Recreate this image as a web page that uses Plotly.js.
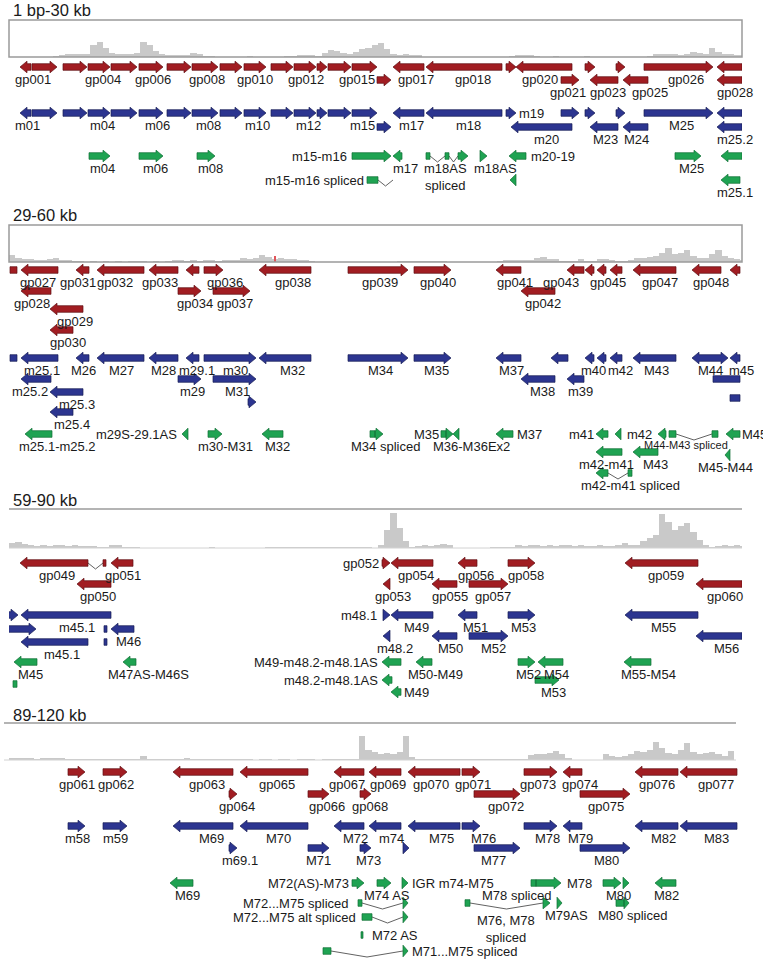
<!DOCTYPE html>
<html><head><meta charset="utf-8">
<script src="https://cdn.plot.ly/plotly-3.0.1.min.js"></script>
<style>html,body{margin:0;padding:0;background:#fff}#chart{width:763px;height:964px}</style>
</head><body><div id="chart"></div>
<script>
// ---------------- DATA ----------------
const panelTitles = ['1 bp-30 kb', '29-60 kb', '59-90 kb', '89-120 kb'];
const panelStartKb = [0, 29, 59, 89];
const panelSpanKb = 29.32;
const covBinKb = 0.25;

// read coverage (relative depth), 0.25 kb bins from each panel start
const cov1 = [0,0,0,0,0,0,0.5,1.5,2.5,3,3,3,3.5,12,15,9,4,3,3,3,4,15,12,6,3,2.5,2.5,2,2,4.5,3,1.5,1,0.5,0.3,0.3,0.3,0.3,1,0.5,0.3,0.3,0.3,0.3,1,1.5,2,2.5,2,1.5,4,7,6,4,3.5,5,8,9,12,14,8,3,2.5,3,2.5,2,0.5,0.2,0.2,0.2,0.2,0.2,0.2,0.2,0.2,0.2,0.2,0.2,0.2,0.2,1.5,2.5,2.5,2,1.5,0.5,0.3,1,0.5,0.3,0.3,0.3,1,0.3,0.3,0.3,0.3,0.3,0.3,0.3,0.3,0.3,1,3,3.5,3,3.5,2,3,5,4,3,9,5,3.5,3,2.5,2];
const cov2 = [7,4,3,3,2.5,2,3,4,2.5,2,1,0.8,0.5,0.8,0.5,0.8,0.5,0.8,0.5,0.8,1,0.8,0.5,0.8,0.5,0.8,2.5,2,1.5,2,1.5,2,2,1.5,2,2.5,2,4,3,4,7,5,3,4,3,3,2.5,2.5,1,0.3,0.3,0.3,0.3,0.3,0.3,0.3,0.3,0.3,0.3,0.3,0.3,0.3,1.5,1,1.5,1,1.5,1,1.5,1,0.3,0.3,0.3,0.3,0.3,0.3,0.3,0.3,1.5,2,2.5,2,2,2.5,4,5,3.5,3,1,1,1,3,1,1.5,3,3,2,1,1.5,2,4,4.5,5,6,9,14,8,9,12,6,4,4,8,12,6,4,3,2];
const cov2RedKb = [39.64];
const cov2RedVal = [6];
const cov3 = [5,6,4,3,2.5,3,2.5,3,3,2.5,3,2.5,2,2,1,1.5,3.5,3,1.5,1.5,1,0.3,0.3,0.3,0.3,0.3,0.3,0.3,0.3,0.3,0.3,0.3,1,0.3,0.3,0.3,0.3,0.3,0.3,0.3,0.3,1.2,0.6,1.2,0.6,1.2,0.6,1.2,0.6,1.2,0.6,1.2,0.6,0.8,0.8,0.8,0.8,0.8,0.5,3,18,35,20,7,1.5,2.5,3,2.5,3.5,4,3,0.5,0.4,0.4,0.4,0.4,0.4,1.3,1.3,1.3,1.3,3,2.5,3,3.5,2.5,3,2.5,3,3,2.5,3,2,2.5,3,2.5,2,3,5,3,3,7,10,13,34,26,18,22,25,16,8,3,1.5,2,3,2.5,3,2];
const cov4 = [2,2.5,2,2,1.5,2,2,2.5,2,1,1,0.8,1,1,1.2,1,0.8,1,1,1,1,4,1.5,1,1.5,1.5,1,1.5,2,1.5,1,1.5,1.5,1,1.5,1.5,1,1.5,1,0.5,1,1,0.5,1,1,0.5,1,1,1,0.5,1,1,1,1.5,1,1.5,24,10,8,6,7,6,8,24,3,1,0.7,1,1,0.7,1,1,0.7,1,1,0.7,1,1,0.7,1,1,0.7,1,5,6,6,7,9,6,2,0.5,0.5,0.5,0.5,0.5,6,4,3,4,6,9,8,10,18,12,7,6,10,17,8,6,7,8,6,4,9,0,0];

// features: [startKb, endKb, kind (R rightward, L leftward, B both, X block), lane]
const genesP1 = [
 [0.44,0.88,'L','R1'],[0.92,1.92,'R','R1'],[2.16,3.12,'R','R1'],[3.16,4.04,'R','R1'],[4.08,5.12,'R','R1'],[5.20,6.16,'R','R1'],[6.32,7.28,'R','R1'],[7.32,8.36,'R','R1'],[8.44,9.32,'R','R1'],[9.40,10.28,'R','R1'],[10.48,11.36,'R','R1'],[11.40,12.28,'R','R1'],[12.32,12.72,'R','R1'],[12.76,13.68,'R','R1'],[13.72,14.72,'R','R1'],[15.36,16.60,'L','R1'],[16.68,19.72,'L','R1'],[19.88,20.28,'R','R1'],[20.28,22.52,'L','R1'],[23.04,23.44,'R','R1'],[24.28,24.64,'R','R1'],[25.40,28.16,'R','R1'],[28.32,29.32,'L','R1'],
 [14.72,15.28,'R','R2'],[22.08,22.80,'R','R2'],[23.24,24.36,'L','R2'],[24.56,25.56,'L','R2'],[28.32,29.32,'L','R2'],
 [0.44,0.88,'L','B1'],[0.92,1.92,'R','B1'],[2.16,3.12,'R','B1'],[3.16,4.04,'R','B1'],[4.08,5.12,'R','B1'],[5.20,6.16,'R','B1'],[6.32,7.28,'R','B1'],[7.32,8.36,'R','B1'],[8.44,9.32,'R','B1'],[9.40,10.28,'R','B1'],[10.48,11.36,'R','B1'],[11.40,12.28,'R','B1'],[12.32,12.72,'R','B1'],[12.76,13.68,'R','B1'],[13.72,14.72,'R','B1'],[15.36,16.60,'L','B1'],[16.68,19.72,'L','B1'],[19.88,20.28,'R','B1'],[22.08,22.80,'R','B1'],[23.04,23.44,'R','B1'],[24.28,24.64,'R','B1'],[25.40,28.16,'R','B1'],[28.32,29.32,'L','B1'],
 [14.72,15.28,'R','B2'],[20.08,22.52,'L','B2'],[23.24,24.36,'L','B2'],[24.56,25.56,'L','B2'],[28.32,29.32,'L','B2'],
 [3.20,4.04,'R','G1'],[5.20,6.16,'R','G1'],[7.52,8.24,'R','G1'],[13.72,15.28,'R','G1'],[15.36,15.72,'L','G1'],[16.68,16.84,'X','G1'],[17.44,17.60,'X','G1'],[17.96,18.36,'R','G1'],[18.84,19.12,'R','G1'],[20.00,20.68,'L','G1'],[26.64,27.68,'R','G1'],[28.48,29.32,'L','G1'],
 [14.32,14.76,'X','G2'],[20.04,20.28,'L','G2'],[28.48,29.24,'L','G2']
];
const intronsP1 = [[14.76,15.36,'G2'],[16.84,17.44,'G1'],[17.60,17.96,'G1']];
const labelsP1 = [
 ['gp001',0.96,'R1','b'],['gp004',3.76,'R1','b'],['gp006',5.76,'R1','b'],['gp008',7.92,'R1','b'],['gp010',9.84,'R1','b'],['gp012',11.88,'R1','b'],['gp015',13.92,'R1','b'],['gp017',16.28,'R1','b'],['gp018',18.56,'R1','b'],['gp020',21.24,'R1','b'],['gp026',27.08,'R1','b'],
 ['gp021',22.36,'R2','b'],['gp023',23.96,'R2','b'],['gp025',25.64,'R2','b'],['gp028',29.04,'R2','b'],
 ['m01',0.72,'B1','b'],['m04',3.72,'B1','b'],['m06',5.92,'B1','b'],['m08',7.96,'B1','b'],['m10',9.92,'B1','b'],['m12',11.96,'B1','b'],['m15',14.12,'B1','b'],['m17',16.08,'B1','b'],['m18',18.36,'B1','b'],['m19',20.36,'B1','r'],['M25',26.88,'B1','b'],
 ['m20',21.48,'B2','b'],['M23',23.84,'B2','b'],['M24',25.08,'B2','b'],['m25.2',29.04,'B2','b'],
 ['m04',3.72,'G1','b'],['m06',5.84,'G1','b'],['m08',8.04,'G1','b'],['m15-m16',13.56,'G1','l'],['m17',15.84,'G1','b'],['m18AS<br>spliced',17.44,'G1','b'],['m18AS',19.44,'G1','b'],['m20-19',20.84,'G1','r'],['M25',27.28,'G1','b'],
 ['m15-m16 spliced',14.24,'G2','l'],['m25.1',29.04,'G2','b']
];

const genesP2 = [
 [29.04,29.32,'X','R1'],[29.48,30.96,'L','R1'],[31.68,32.20,'L','R1'],[32.52,34.40,'L','R1'],[34.60,35.76,'L','R1'],[36.08,36.60,'L','R1'],[36.80,37.56,'R','R1'],[39.00,41.08,'L','R1'],[42.56,44.96,'R','R1'],[45.20,46.68,'R','R1'],[48.48,49.48,'L','R1'],[51.32,52.00,'L','R1'],[52.04,52.40,'L','R1'],[52.52,52.88,'L','R1'],[53.04,53.52,'L','R1'],[53.96,55.68,'L','R1'],[56.32,57.48,'L','R1'],[57.84,58.24,'L','R1'],
 [29.48,30.68,'L','R2'],[35.76,36.68,'R','R2'],[37.16,38.64,'R','R2'],[49.48,50.84,'L','R2'],
 [30.64,31.96,'L','R3'],[30.64,31.56,'L','R4'],
 [29.04,29.32,'X','B1'],[29.48,30.96,'L','B1'],[31.68,32.20,'L','B1'],[32.52,34.40,'L','B1'],[34.60,35.76,'L','B1'],[36.08,36.60,'L','B1'],[36.80,38.88,'R','B1'],[39.00,41.08,'L','B1'],[42.56,44.96,'R','B1'],[45.20,46.68,'R','B1'],[48.48,49.48,'L','B1'],[50.68,51.36,'L','B1'],[52.04,52.40,'L','B1'],[52.52,52.88,'L','B1'],[53.04,53.52,'L','B1'],[53.96,55.68,'L','B1'],[56.32,57.76,'B','B1'],[57.84,58.24,'L','B1'],
 [29.48,30.68,'L','B2'],[35.76,36.68,'R','B2'],[37.16,38.88,'R','B2'],[49.48,50.84,'L','B2'],[51.32,52.00,'L','B2'],[57.16,58.24,'X','B2'],
 [30.64,31.96,'L','B3'],[38.56,38.88,'R','B3b'],[57.84,58.24,'X','B3c'],[30.64,31.56,'L','B4'],
 [29.64,30.72,'L','G1'],[35.92,36.16,'L','G1'],[36.96,37.52,'R','G1'],[39.12,39.96,'L','G1'],[43.44,43.64,'X','G1'],[43.64,43.96,'R','G1'],[46.28,46.48,'X','G1'],[46.48,46.76,'R','G1'],[46.76,47.00,'L','G1'],[48.48,49.16,'L','G1'],[52.48,52.96,'L','G1'],[53.24,53.48,'L','G1'],[54.96,55.28,'L','G1'],[55.40,55.68,'X','G1'],[57.12,57.36,'X','G1'],[57.68,58.24,'L','G1'],
 [52.48,53.52,'L','G2'],[53.96,54.96,'L','G2'],[57.64,57.84,'L','G2b'],
 [52.48,52.96,'L','G3'],[53.76,53.92,'X','G3']
];
const intronsP2 = [[55.68,57.12,'G1'],[52.96,53.76,'G3']];
const labelsP2 = [
 ['gp027',30.16,'R1','b'],['gp031',31.76,'R1','b'],['gp032',33.24,'R1','b'],['gp033',35.04,'R1','b'],['gp036',37.64,'R1','b'],['gp038',40.36,'R1','b'],['gp039',43.84,'R1','b'],['gp040',46.16,'R1','b'],['gp041',49.24,'R1','b'],['gp043',51.08,'R1','b'],['gp045',52.96,'R1','b'],['gp047',55.04,'R1','b'],['gp048',57.08,'R1','b'],
 ['gp028',29.92,'R2','b'],['gp034',36.44,'R2','b'],['gp037',38.04,'R2','b'],['gp042',50.36,'R2','b'],
 ['gp029',31.64,'R3','b'],['gp030',31.36,'R4','b'],
 ['m25.1',30.32,'B1','b'],['M26',31.96,'B1','b'],['M27',33.48,'B1','b'],['M28',35.16,'B1','b'],['m29.1',36.52,'B1','b'],['m30',38.04,'B1','b'],['M32',40.32,'B1','b'],['M34',43.84,'B1','b'],['M35',46.08,'B1','b'],['M37',49.08,'B1','b'],['m40',52.36,'B1','b'],['m42',53.44,'B1','b'],['M43',54.88,'B1','b'],['M44',57.04,'B1','b'],['m45',58.28,'B1','b'],
 ['m25.2',29.84,'B2','b'],['m29',36.32,'B2','b'],['M31',38.12,'B2','b'],['M38',50.32,'B2','b'],['m39',51.84,'B2','b'],
 ['m25.3',31.72,'B3','b'],['m25.4',31.52,'B4','b'],
 ['m25.1-m25.2',30.92,'G1','b'],['m29S-29.1AS',35.76,'G1','l'],['m30-M31',37.64,'G1','b'],['M32',39.72,'G1','b'],['M34 spliced',44.04,'G1','b'],['M35',46.24,'G1','l'],['M36-M36Ex2',47.48,'G1','b'],['M37',49.28,'G1','r'],['m41',52.44,'G1','l'],['m42',53.68,'G1','r'],['M44-M43 spliced',56.08,'G1s','c','small'],['M45',58.28,'G1','r'],
 ['m42-m41',52.88,'G2','b'],['M43',54.84,'G2','b'],['M45-M44',57.64,'G2b','b'],['m42-m41 spliced',53.84,'G3','b']
];

const genesP3 = [
 [59.44,62.16,'L','R1'],[62.76,62.88,'X','R1'],[63.08,63.96,'L','R1'],[73.92,74.24,'R','R1'],[74.28,75.96,'L','R1'],[76.96,77.72,'L','R1'],[78.96,80.04,'R','R1'],[83.64,86.56,'L','R1'],
 [61.72,63.08,'L','R2'],[73.96,74.24,'L','R2'],[75.92,76.92,'L','R2'],[77.40,78.96,'R','R2'],[86.48,88.32,'L','R2'],
 [58.96,59.36,'R','B1'],[59.48,63.08,'L','B1'],[73.96,74.24,'R','B1'],[74.28,75.96,'L','B1'],[76.96,77.72,'L','B1'],[78.96,80.04,'R','B1'],[83.64,86.56,'L','B1'],
 [58.96,60.08,'R','B2'],[62.80,62.92,'X','B2'],[63.08,64.00,'L','B2'],
 [73.96,74.24,'L','B3'],[75.92,76.92,'L','B3'],[77.40,78.96,'R','B3'],[86.48,88.32,'L','B3'],
 [59.48,62.16,'L','B4'],[62.80,62.92,'X','B4'],
 [59.20,60.12,'L','G1'],[63.56,64.08,'L','G1'],[73.92,74.68,'L','G1'],[75.28,75.92,'L','G1'],[79.36,80.04,'R','G1'],[80.16,81.16,'L','G1'],[83.60,84.68,'L','G1'],
 [59.16,59.32,'X','G1b'],[73.92,74.32,'L','G2'],[80.04,81.00,'R','G2'],[74.28,74.68,'L','G3']
];
const intronsP3 = [[62.16,62.76,'R1']];
const labelsP3 = [
 ['gp049',60.92,'R1','b'],['gp051',63.56,'R1','b'],['gp052',73.84,'R1','l'],['gp054',75.28,'R1','b'],['gp056',77.68,'R1','b'],['gp058',79.68,'R1','b'],['gp059',85.28,'R1','b'],
 ['gp050',62.56,'R2','b'],['gp053',74.36,'R2','b'],['gp055',76.64,'R2','b'],['gp057',78.36,'R2','b'],['gp060',87.64,'R2','b'],
 ['m45.1',61.72,'B1','b'],['m48.1',73.76,'B1','l'],['M49',75.28,'B1','b'],['M51',77.64,'B1','b'],['M53',79.56,'B1','b'],['M55',85.16,'B1','b'],
 ['M46',63.76,'B2','b'],
 ['m48.2',74.44,'B3','b'],['M50',76.64,'B3','b'],['M52',78.36,'B3','b'],['M56',87.68,'B3','b'],
 ['m45.1',61.12,'B4','b'],
 ['M45',59.84,'G1','b'],['M47AS-M46S',64.56,'G1','b'],['M49-m48.2-m48.1AS',73.80,'G1','l'],['M50-M49',76.04,'G1','b'],['M52',79.76,'G1','b'],['M54',80.88,'G1','b'],['M55-M54',84.56,'G1','b'],
 ['m48.2-m48.1AS',73.80,'G2','l'],['M53',80.76,'G2','b'],['M49',74.76,'G3','r']
];

const genesP4 = [
 [91.36,92.04,'R','R1'],[92.76,93.72,'R','R1'],[95.56,97.96,'L','R1'],[98.24,100.96,'L','R1'],[102.00,103.20,'L','R1'],[103.40,104.68,'L','R1'],[104.96,107.04,'L','R1'],[107.12,107.84,'R','R1'],[109.60,110.92,'R','R1'],[111.16,111.92,'L','R1'],[114.04,115.76,'L','R1'],[115.84,118.12,'L','R1'],
 [97.80,98.12,'R','R2'],[100.96,101.80,'R','R2'],[103.04,103.48,'R','R2'],[107.60,109.44,'R','R2'],[111.84,113.84,'R','R2'],
 [91.36,92.04,'R','B1'],[92.76,93.72,'R','B1'],[95.56,97.96,'L','B1'],[98.24,100.96,'L','B1'],[102.00,103.20,'L','B1'],[103.40,104.68,'L','B1'],[104.96,107.04,'L','B1'],[107.12,107.84,'R','B1'],[109.60,110.92,'R','B1'],[111.16,111.92,'L','B1'],[114.04,115.76,'L','B1'],[115.84,118.12,'L','B1'],
 [97.80,98.12,'R','B2'],[100.96,101.80,'R','B2'],[103.04,103.48,'R','B2'],[104.76,105.00,'R','B2'],[107.60,109.44,'R','B2'],[111.84,113.84,'R','B2'],
 [95.44,96.36,'L','G1'],[102.72,103.20,'R','G1'],[103.72,104.28,'R','G1'],[104.72,104.96,'R','G1'],[109.88,110.08,'X','G1'],[110.08,111.08,'R','G1'],[112.76,113.48,'R','G1'],[113.56,113.80,'R','G1'],[114.84,115.68,'L','G1'],
 [102.96,103.12,'X','G2'],[104.76,104.96,'R','G2'],[107.24,107.44,'X','G2'],[110.36,110.64,'R','G2'],[110.92,111.12,'R','G2'],[113.28,113.60,'X','G2'],[113.60,113.80,'R','G2'],
 [103.12,103.52,'X','G3'],[104.76,104.96,'R','G3'],
 [103.08,103.16,'X','G4'],
 [101.56,101.88,'X','G5'],[104.76,104.96,'R','G5']
];
const intronsP4 = [[103.12,104.76,'G2'],[107.44,110.36,'G2'],[103.52,104.76,'G3'],[101.88,104.76,'G5']];
const labelsP4 = [
 ['gp061',91.72,'R1','b'],['gp062',93.28,'R1','b'],['gp063',96.92,'R1','b'],['gp065',99.72,'R1','b'],['gp067',102.52,'R1','b'],['gp069',104.16,'R1','b'],['gp070',105.88,'R1','b'],['gp071',107.56,'R1','b'],['gp073',110.16,'R1','b'],['gp074',111.84,'R1','b'],['gp076',114.92,'R1','b'],['gp077',117.28,'R1','b'],
 ['gp064',98.12,'R2','b'],['gp066',101.72,'R2','b'],['gp068',103.44,'R2','b'],['gp072',108.88,'R2','b'],['gp075',112.88,'R2','b'],
 ['m58',91.72,'B1','b'],['m59',93.24,'B1','b'],['M69',97.08,'B1','b'],['M70',99.76,'B1','b'],['M72',102.84,'B1','b'],['m74',104.28,'B1','b'],['M75',106.28,'B1','b'],['M76',107.96,'B1','b'],['M78',110.52,'B1','b'],['M79',111.84,'B1','b'],['M82',115.16,'B1','b'],['M83',117.28,'B1','b'],
 ['m69.1',98.24,'B2','b'],['M71',101.36,'B2','b'],['M73',103.36,'B2','b'],['M77',108.36,'B2','b'],['M80',112.88,'B2','b'],
 ['M69',96.12,'G1','b'],['M72(AS)-M73',102.64,'G1','l'],['M74 AS',104.12,'G1','b'],['IGR m74-M75',105.08,'G1','r'],['M78',111.28,'G1','r'],['M78 spliced',109.28,'G1','b'],['M80',113.36,'G1','b'],['M82',115.28,'G1','b'],
 ['M72...M75 spliced',102.64,'G2','l'],['M79AS',111.28,'G2','b'],['M80 spliced',113.92,'G2','b'],['M76, M78<br>spliced',108.88,'G2x','c'],
 ['M72...M75 alt spliced',102.92,'G3','l'],['M72 AS',103.48,'G4','r'],['M71...M75 spliced',105.08,'G5','r']
];

// ---------------- LAYOUT / STYLE ----------------
const W = 763, H = 964;
const covBox = [[20,57],[225,262],[509,548],[723,760]];
const titleY = [10, 215, 500, 715];
const laneY = [
 {R1:67,R2:80,B1:113,B2:127,G1:156,G2:180},
 {R1:270,R2:291,R3:309,R4:330,B1:358,B2:379,B3:392,B3b:402,B3c:398,B4:412,G1:434,G1s:445,G2:452,G2b:455,G3:473},
 {R1:563,R2:584,B1:615,B2:629,B3:636,B4:642,G1:662,G1b:684,G2:680,G3:692},
 {R1:772,R2:794,B1:826,B2:848,G1:883,G2:903,G2x:929,G3:917,G4:935,G5:951}
];
const palette = {
 R:{fill:'#a11d22', line:'#5e0f12'},
 B:{fill:'#2c3590', line:'#171c55'},
 G:{fill:'#1fa352', line:'#0f6e33'}
};
const BODY = 3.3, HEAD = 5.8, HEAD_KB = 0.28, DIP = 6;
const FONT = 'Liberation Sans, Arial, Helvetica, sans-serif';

const genes = [genesP1, genesP2, genesP3, genesP4];
const introns = [intronsP1, intronsP2, intronsP3, intronsP4];
const labels = [labelsP1, labelsP2, labelsP3, labelsP4];
const covs = [cov1, cov2, cov3, cov4];

function axName(p){ return p === 0 ? '' : String(p+1); }

function shapePts(a, b, kind, c){
  const X = [], Y = [];
  const add = (x,y) => { X.push(x); Y.push(y); };
  const len = b - a;
  const h = Math.min(HEAD_KB, len);
  if (kind === 'X') {
    add(a,c-BODY); add(b,c-BODY); add(b,c+BODY); add(a,c+BODY); add(a,c-BODY);
  } else if (kind === 'R') {
    if (len <= HEAD_KB) { add(a,c-HEAD); add(b,c); add(a,c+HEAD); add(a,c-HEAD); }
    else { add(a,c-BODY); add(b-h,c-BODY); add(b-h,c-HEAD); add(b,c); add(b-h,c+HEAD); add(b-h,c+BODY); add(a,c+BODY); add(a,c-BODY); }
  } else if (kind === 'L') {
    if (len <= HEAD_KB) { add(b,c-HEAD); add(a,c); add(b,c+HEAD); add(b,c-HEAD); }
    else { add(b,c-BODY); add(a+h,c-BODY); add(a+h,c-HEAD); add(a,c); add(a+h,c+HEAD); add(a+h,c+BODY); add(b,c+BODY); add(b,c-BODY); }
  } else if (kind === 'B') {
    const h2 = Math.min(HEAD_KB, len/2);
    add(a,c); add(a+h2,c-HEAD); add(a+h2,c-BODY); add(b-h2,c-BODY); add(b-h2,c-HEAD); add(b,c);
    add(b-h2,c+HEAD); add(b-h2,c+BODY); add(a+h2,c+BODY); add(a+h2,c+HEAD); add(a,c);
  }
  return [X, Y];
}

const traces = [];
const annotations = [];
const layout = {
  width: W, height: H, margin:{l:0,r:0,t:0,b:0}, showlegend:false,
  paper_bgcolor:'#ffffff', plot_bgcolor:'rgba(0,0,0,0)', bargap:0, hovermode:false,
  yaxis:{domain:[0,1], range:[H,0], visible:false, anchor:'x', fixedrange:true},
  shapes:[], annotations: annotations
};

for (let p = 0; p < 4; p++) {
  const xa = 'x' + axName(p);
  const ycov = 'y' + (p+2);
  layout['xaxis' + axName(p)] = {domain:[9/W, 742/W], range:[panelStartKb[p], panelStartKb[p] + panelSpanKb], visible:false, anchor:'y', fixedrange:true};
  layout['yaxis' + (p+2)] = {domain:[1 - covBox[p][1]/H, 1 - covBox[p][0]/H], range:[0, covBox[p][1] - covBox[p][0]], visible:false, anchor:xa, fixedrange:true};

  // coverage
  const cx = covs[p].map((v,i) => panelStartKb[p] + covBinKb*(i+0.5));
  traces.push({type:'bar', x:cx, y:covs[p], width:covBinKb, xaxis:xa, yaxis:ycov,
    marker:{color:'#c9c9c9', line:{width:0}}, hoverinfo:'skip'});
  if (p === 1) {
    traces.push({type:'bar', x:cov2RedKb, y:cov2RedVal, width:0.06, xaxis:xa, yaxis:ycov,
      marker:{color:'#e0555a', line:{width:0}}, hoverinfo:'skip'});
  }

  // introns
  const ix = [], iy = [];
  introns[p].forEach(([a,b,lane]) => {
    const c = laneY[p][lane];
    ix.push(a, (a+b)/2, b, null); iy.push(c, c+DIP, c, null);
  });
  if (ix.length) traces.push({type:'scatter', mode:'lines', x:ix, y:iy, xaxis:xa, yaxis:'y',
    line:{color:'#3a3a3a', width:0.8}, hoverinfo:'skip'});

  // gene glyphs, grouped by colour
  ['R','B','G'].forEach(col => {
    const X = [], Y = [];
    genes[p].filter(g => g[3][0] === col).forEach(([a,b,kind,lane]) => {
      const [gx, gy] = shapePts(a, b, kind, laneY[p][lane]);
      X.push(...gx, null); Y.push(...gy, null);
    });
    traces.push({type:'scatter', mode:'lines', x:X, y:Y, xaxis:xa, yaxis:'y',
      fill:'toself', fillcolor:palette[col].fill, line:{color:palette[col].line, width:0.7},
      hoverinfo:'skip'});
  });

  // labels
  labels[p].forEach(([text, kb, lane, anchor, sz]) => {
    const c = laneY[p][lane];
    const nl = text.split('<br>').length;
    let y = c, xanchor = 'center';
    if (anchor === 'b') y = c + 12 + (nl-1)*8.5;
    else if (anchor === 'l') xanchor = 'right';
    else if (anchor === 'r') xanchor = 'left';
    annotations.push({x:kb, y:y, xref:xa, yref:'y', text:text, showarrow:false,
      xanchor:xanchor, yanchor:'middle', borderpad:0,
      font:{family:FONT, size: sz === 'small' ? 11 : 13, color:'#1a1a1a'}});
  });

  // panel title
  annotations.push({x:11/W, y:titleY[p], xref:'paper', yref:'y', text:panelTitles[p], showarrow:false,
    xanchor:'left', yanchor:'middle', font:{family:FONT, size:16.5, color:'#1a1a1a'}});
}

// coverage frames
layout.shapes.push(
  {type:'rect', xref:'paper', yref:'y', x0:9/W, x1:742/W, y0:covBox[0][0], y1:covBox[0][1], line:{color:'#9b9b9b', width:1.5}},
  {type:'rect', xref:'paper', yref:'y', x0:9/W, x1:742/W, y0:covBox[1][0], y1:covBox[1][1], line:{color:'#9b9b9b', width:1.5}},
  {type:'line', xref:'paper', yref:'y', x0:9/W, x1:742/W, y0:covBox[2][0], y1:covBox[2][0], line:{color:'#9b9b9b', width:1.5}},
  {type:'line', xref:'paper', yref:'y', x0:9/W, x1:742/W, y0:covBox[2][1], y1:covBox[2][1], line:{color:'#d2d2d2', width:1}},
  {type:'line', xref:'paper', yref:'y', x0:4/W, x1:736/W, y0:covBox[3][0], y1:covBox[3][0], line:{color:'#9b9b9b', width:1.5}},
  {type:'line', xref:'paper', yref:'y', x0:4/W, x1:736/W, y0:covBox[3][1], y1:covBox[3][1], line:{color:'#d2d2d2', width:1}}
);

Plotly.newPlot('chart', traces, layout, {staticPlot:true, displayModeBar:false});
</script>
</body></html>
